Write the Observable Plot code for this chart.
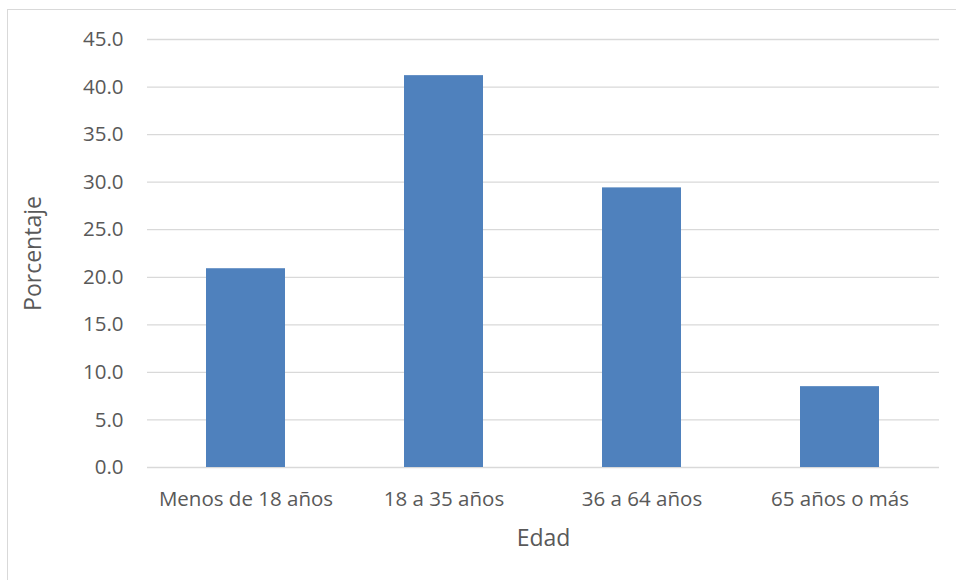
<!DOCTYPE html>
<html><head><meta charset="utf-8">
<script src="https://cdn.jsdelivr.net/npm/d3@7"></script>
<script src="https://cdn.jsdelivr.net/npm/@observablehq/plot@0.6"></script>
<style>
html,body{margin:0;padding:0;background:#fff;}
#wrap{position:relative;width:956px;height:580px;overflow:hidden;}
#frame{position:absolute;left:7px;top:9px;width:1000px;height:1000px;border:1.5px solid #d9d9d9;box-sizing:border-box;}
#chart{position:absolute;left:0;top:0;}
</style></head>
<body><div id="wrap"><div id="frame"></div><div id="chart"></div></div>
<script>
const categories = ["Menos de 18 años", "18 a 35 años", "36 a 64 años", "65 años o más"];
const values = [20.9, 41.2, 29.4, 8.5];
const yTicks = [0, 5, 10, 15, 20, 25, 30, 35, 40, 45];
const data = categories.map((c, i) => ({cat: c, val: values[i]}));
const font = "Open Sans, Noto Sans, sans-serif";
const chart = Plot.plot({
  width: 956, height: 580,
  marginLeft: 147, marginRight: 17, marginTop: 39, marginBottom: 113,
  style: {fontFamily: font, fontSize: "20.5px", color: "#595959", background: "transparent"},
  x: {domain: categories, paddingInner: 0.6, paddingOuter: 0.3, label: null},
  y: {domain: [0, 45], ticks: yTicks, label: null},
  marks: [
    Plot.gridY(yTicks, {stroke: "#d9d9d9", strokeOpacity: 1, strokeWidth: 1.3}),
    Plot.barY(data, {x: "cat", y: "val", fill: "#4F81BD"}),
    Plot.axisY({ticks: yTicks, tickSize: 0, tickPadding: 24, tickFormat: d => d.toFixed(1), label: null, fill: "#595959"}),
    Plot.axisX({tickSize: 0, tickPadding: 24, label: null, fill: "#595959"}),
    Plot.text(["Porcentaje"], {frameAnchor: "left", textAnchor: "middle", dx: -114, rotate: -90, fontSize: 23, fill: "#595959"}),
    Plot.text(["Edad"], {frameAnchor: "bottom", dy: 78, fontSize: 23, fill: "#595959"})
  ]
});
document.getElementById("chart").appendChild(chart);
</script></body></html>
